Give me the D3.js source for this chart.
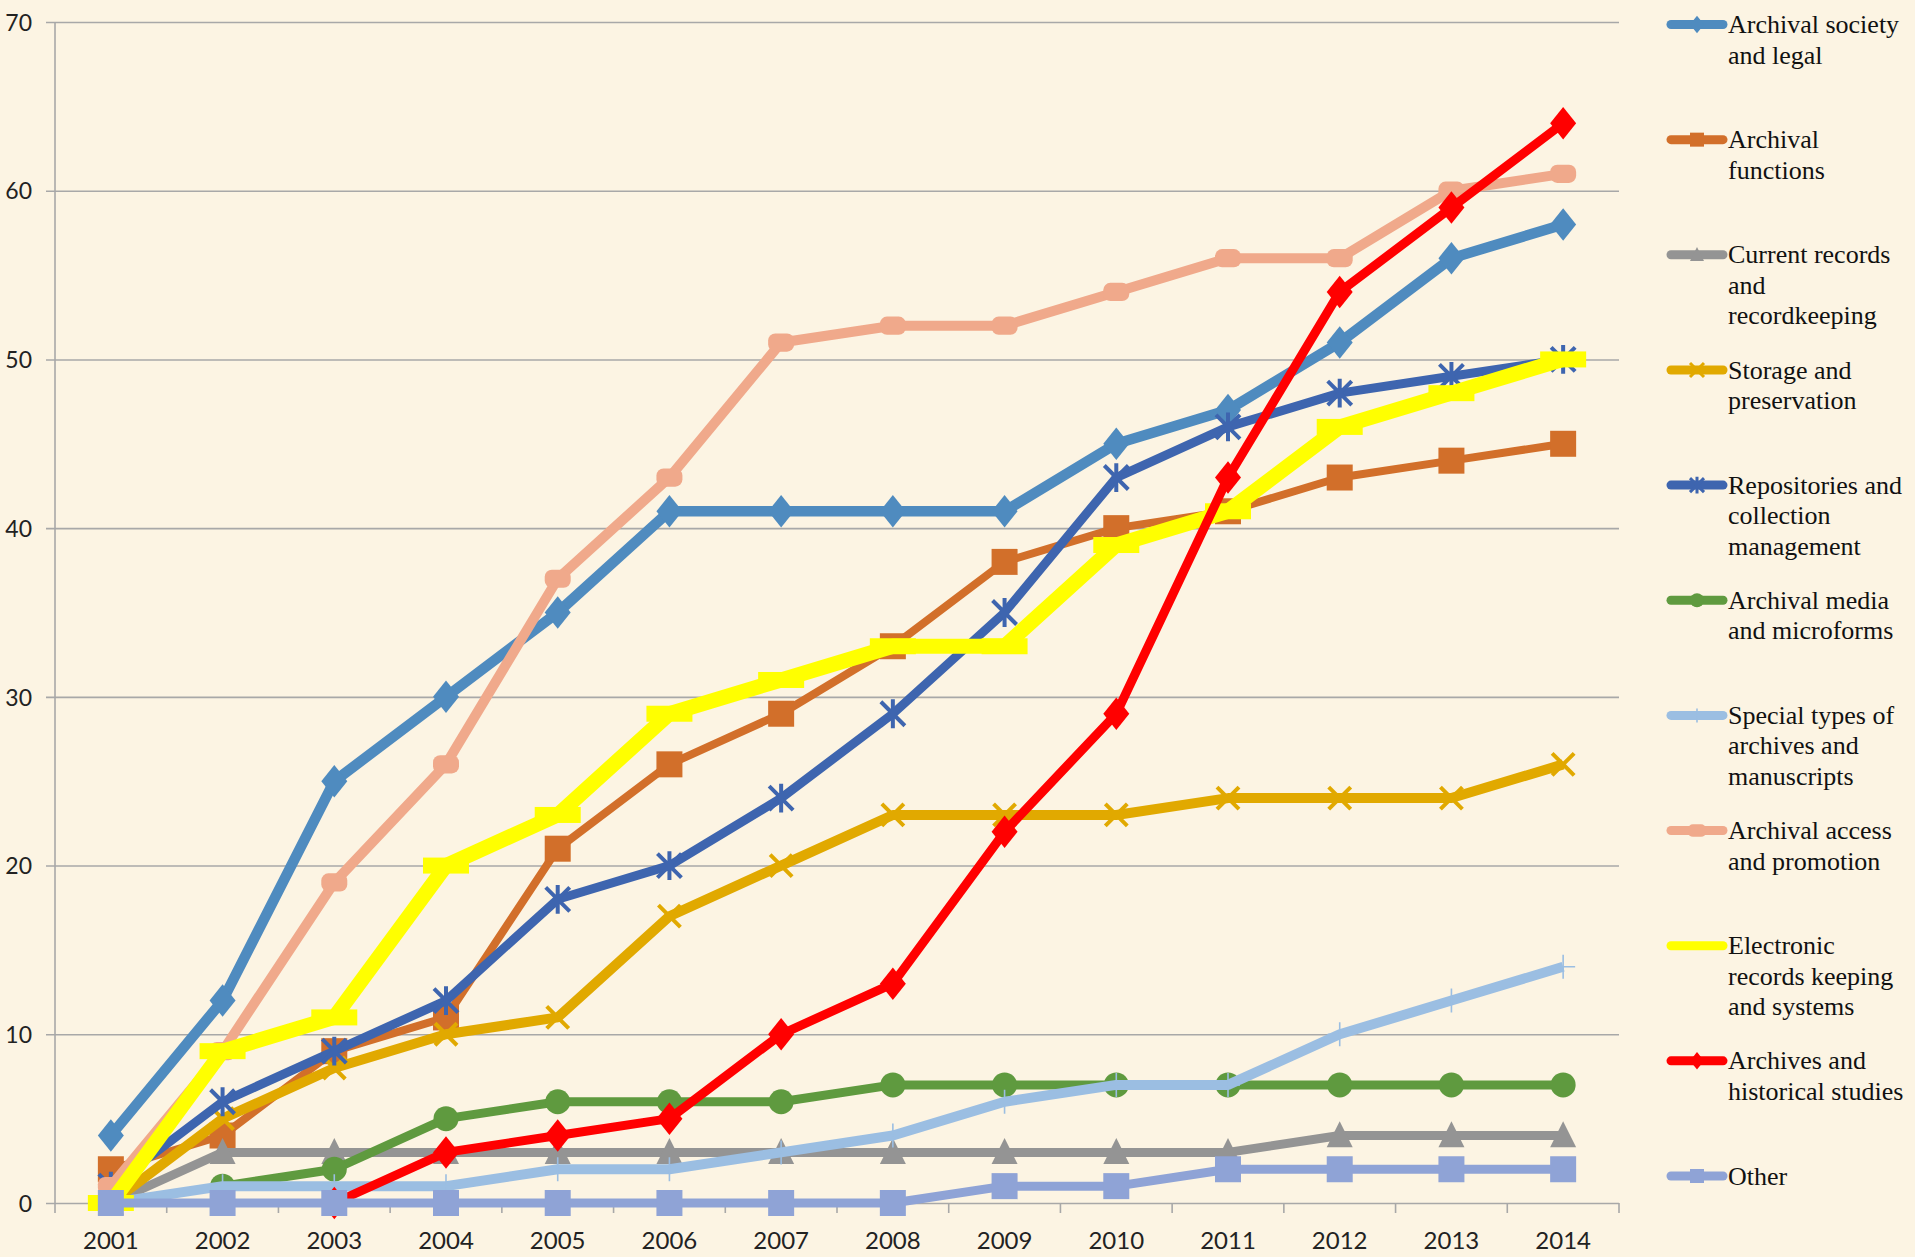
<!DOCTYPE html>
<html>
<head>
<meta charset="utf-8">
<script src="https://cdn.jsdelivr.net/npm/d3@7"></script>
<style>
  html, body { margin: 0; padding: 0; background: #fcf4e3; }
  svg { display: block; }
</style>
</head>
<body>
<div id="chart"></div>
<script>
// years on the x axis
var years = ["2001", "2002", "2003", "2004", "2005", "2006", "2007",
             "2008", "2009", "2010", "2011", "2012", "2013", "2014"];
var yTicks = [0, 10, 20, 30, 40, 50, 60, 70];

// series values (null = no point)
var society      = [4, 12, 25, 30, 35, 41, 41, 41, 41, 45, 47, 51, 56, 58];
var functions    = [2, 4, 9, 11, 21, 26, 29, 33, 38, 40, 41, 43, 44, 45];
var current      = [0, 3, 3, 3, 3, 3, 3, 3, 3, 3, 3, 4, 4, 4];
var storage      = [0, 5, 8, 10, 11, 17, 20, 23, 23, 23, 24, 24, 24, 26];
var repositories = [1, 6, 9, 12, 18, 20, 24, 29, 35, 43, 46, 48, 49, 50];
var media        = [null, 1, 2, 5, 6, 6, 6, 7, 7, 7, 7, 7, 7, 7];
var special      = [0, 1, 1, 1, 2, 2, 3, 4, 6, 7, 7, 10, 12, 14];
var access       = [1, 9, 19, 26, 37, 43, 51, 52, 52, 54, 56, 56, 60, 61];
var electronic   = [0, 9, 11, 20, 23, 29, 31, 33, 33, 39, 41, 46, 48, 50];
var historical   = [null, null, 0, 3, 4, 5, 10, 13, 22, 29, 43, 54, 59, 64];
var other        = [0, 0, 0, 0, 0, 0, 0, 0, 1, 1, 2, 2, 2, 2];

// legend labels, already split into lines as in the original
var labels = [
    ["Archival society", "and legal"],
    ["Archival", "functions"],
    ["Current records", "and", "recordkeeping"],
    ["Storage and", "preservation"],
    ["Repositories and", "collection", "management"],
    ["Archival media", "and microforms"],
    ["Special types of", "archives and", "manuscripts"],
    ["Archival access", "and promotion"],
    ["Electronic", "records keeping", "and systems"],
    ["Archives and", "historical studies"],
    ["Other"]
];

var series = [
    { values: society,      color: "#4f8bbf", width: 10.5, marker: "diamond", size: 13 },
    { values: functions,    color: "#d26f2a", width: 8,  marker: "square",  size: 13 },
    { values: current,      color: "#949494", width: 9,  marker: "triangle", size: 13 },
    { values: storage,      color: "#e1a900", width: 10, marker: "x",       size: 11 },
    { values: repositories, color: "#3e65af", width: 9,  marker: "star",    size: 12 },
    { values: media,        color: "#5f9a3f", width: 9,  marker: "circle",  size: 12.5 },
    { values: special,      color: "#9bbee2", width: 10, marker: "plus",    size: 12 },
    { values: access,       color: "#f0a98b", width: 10, marker: "pill",    size: 13 },
    { values: electronic,   color: "#ffff00", width: 15, marker: "dash",    size: 23 },
    { values: historical,   color: "#ff0000", width: 9,  marker: "diamond", size: 13 },
    { values: other,        color: "#8fa3d6", width: 9,  marker: "square",  size: 13 }
];

var W = 1915, H = 1257;
var plot = { left: 55, right: 1619, top: 22, bottom: 1203 };

var svg = d3.select("#chart")
    .append("svg")
        .attr("width", W)
        .attr("height", H);

svg.append("rect")
    .attr("width", W)
    .attr("height", H)
    .attr("fill", "#fcf4e3");

var xScale = d3.scaleBand()
    .domain(years)
    .range([plot.left, plot.right])
    .padding(0);

var yScale = d3.scaleLinear()
    .domain([0, 70])
    .range([plot.bottom, plot.top]);

//gridlines + y axis labels
var yAxis = d3.axisLeft(yScale)
    .tickValues(yTicks)
    .tickSize(-(plot.right - plot.left))
    .tickPadding(0);

var gy = svg.append("g")
    .attr("class", "yaxis")
    .attr("transform", "translate(" + plot.left + ",0)")
    .call(yAxis);
gy.select(".domain").remove();
gy.selectAll(".tick line")
    .attr("x1", -9)
    .attr("stroke", "#a8a8a8")
    .attr("stroke-width", 1.6);
gy.selectAll(".tick text")
    .attr("x", -23)
    .attr("dy", "0.36em")
    .style("font-family", "Lato, 'Open Sans', sans-serif")
    .style("font-size", "23px")
    .attr("fill", "#222");

// y axis line
svg.append("line")
    .attr("x1", plot.left).attr("x2", plot.left)
    .attr("y1", yScale(70)).attr("y2", yScale(0))
    .attr("stroke", "#a8a8a8")
    .attr("stroke-width", 1.6);

// x axis: ticks at band edges, labels centred
var edges = years.map(function (d) { return xScale(d); }).concat([plot.right]);
svg.append("g")
    .selectAll("line")
    .data(edges)
    .join("line")
        .attr("x1", function (d) { return d; })
        .attr("x2", function (d) { return d; })
        .attr("y1", yScale(0))
        .attr("y2", yScale(0) + 10)
        .attr("stroke", "#a8a8a8")
        .attr("stroke-width", 1.6);

svg.append("g")
    .selectAll("text")
    .data(years)
    .join("text")
        .attr("x", function (d) { return xScale(d) + xScale.bandwidth() / 2; })
        .attr("y", yScale(0) + 46)
        .attr("text-anchor", "middle")
        .style("font-family", "Lato, 'Open Sans', sans-serif")
        .style("font-size", "24px")
        .attr("fill", "#222")
        .text(function (d) { return d; });

// marker shapes, drawn around (0,0)
function markerPath(type, s) {
    switch (type) {
        case "diamond":
            var h = s * 1.25;
            return "M0," + (-h) + "L" + s + ",0L0," + h + "L" + (-s) + ",0Z";
        case "square":
            return "M" + (-s) + "," + (-s) + "h" + 2 * s + "v" + 2 * s + "h" + (-2 * s) + "Z";
        case "triangle":
            return "M0," + (-s * 1.1) + "L" + s + "," + s * 0.9 + "L" + (-s) + "," + s * 0.9 + "Z";
        case "x":
            return "M" + (-s) + "," + (-s) + "L" + s + "," + s + "M" + s + "," + (-s) + "L" + (-s) + "," + s;
        case "star":
            return "M" + (-s) + "," + (-s) + "L" + s + "," + s + "M" + s + "," + (-s) + "L" + (-s) + "," + s +
                   "M0," + (-s * 1.2) + "L0," + s * 1.2;
        case "plus":
            return "M" + (-s) + ",0L" + s + ",0M0," + (-s) + "L0," + s;
    }
    return "";
}

function drawMarker(g, type, s, color, small) {
    if (type === "circle") {
        g.append("circle").attr("r", s).attr("fill", color);
    } else if (type === "pill") {
        g.append("rect")
            .attr("x", -s).attr("y", -s * 0.7)
            .attr("width", 2 * s).attr("height", 1.4 * s)
            .attr("rx", s * 0.55)
            .attr("fill", color);
    } else if (type === "dash") {
        g.append("rect")
            .attr("x", -s).attr("y", -8)
            .attr("width", 2 * s).attr("height", 16)
            .attr("fill", color);
    } else if (type === "x" || type === "star") {
        g.append("path").attr("d", markerPath(type, s))
            .attr("fill", "none").attr("stroke", color)
            .attr("stroke-width", small ? 3 : 4);
    } else if (type === "plus") {
        g.append("path").attr("d", markerPath(type, s))
            .attr("fill", "none").attr("stroke", color)
            .attr("stroke-width", 1.6);
    } else {
        g.append("path").attr("d", markerPath(type, s)).attr("fill", color);
    }
}

var line = d3.line()
    .defined(function (d) { return d.v != null; })
    .x(function (d) { return xScale(d.year) + xScale.bandwidth() / 2; })
    .y(function (d) { return yScale(d.v); });

// series, first one at the bottom like Excel
series.forEach(function (s) {
    var pts = years.map(function (y, i) { return { year: y, v: s.values[i] }; });
    var g = svg.append("g");
    g.append("path")
        .datum(pts)
        .attr("d", line)
        .attr("fill", "none")
        .attr("stroke", s.color)
        .attr("stroke-width", s.width)
        .attr("stroke-linejoin", "round");

    pts.filter(function (d) { return d.v != null; }).forEach(function (d) {
        var m = g.append("g")
            .attr("transform", "translate(" + (xScale(d.year) + xScale.bandwidth() / 2) + "," + yScale(d.v) + ")");
        drawMarker(m, s.marker, s.size, s.color, false);
    });
});

// legend
var legendY = d3.scaleLinear().domain([0, 10]).range([24.5, 1176]);
var legend = svg.append("g").attr("class", "legend");

series.forEach(function (s, i) {
    var g = legend.append("g")
        .attr("transform", "translate(0," + legendY(i) + ")");
    g.append("line")
        .attr("x1", 1671).attr("x2", 1723)
        .attr("stroke", s.color)
        .attr("stroke-width", 9)
        .attr("stroke-linecap", "round");
    if (s.marker !== "dash") {
        var m = g.append("g").attr("transform", "translate(1697,0)");
        drawMarker(m, s.marker, s.marker === "pill" ? 9 : 7, s.color, true);
    }
    var t = g.append("text")
        .attr("x", 1728)
        .attr("y", 0)
        .style("font-family", "'Liberation Serif', 'Times New Roman', serif")
        .style("font-size", "26px")
        .attr("fill", "#111");
    labels[i].forEach(function (ln, j) {
        t.append("tspan")
            .attr("x", 1728)
            .attr("dy", j === 0 ? "0.33em" : 30.5)
            .text(ln);
    });
});
</script>
</body>
</html>
